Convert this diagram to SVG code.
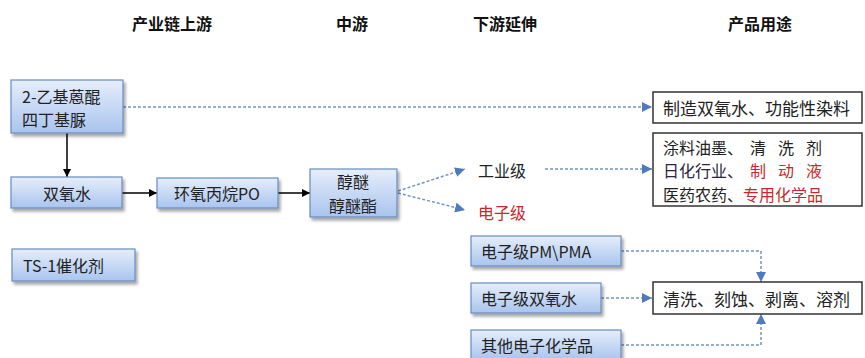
<svg xmlns="http://www.w3.org/2000/svg" width="865" height="358" viewBox="0 0 865 358">
<defs>
  <linearGradient id="blueFill" x1="0" y1="0" x2="0" y2="1">
    <stop offset="0" stop-color="#e6eefb"/>
    <stop offset="1" stop-color="#a9c4ee"/>
  </linearGradient>
  <filter id="shadow" x="-10%" y="-10%" width="130%" height="140%">
    <feDropShadow dx="2" dy="3" stdDeviation="1.5" flood-color="#000" flood-opacity="0.35"/>
  </filter>
  <marker id="arrBlack" viewBox="0 0 10 10" refX="10" refY="5" markerWidth="8" markerHeight="8" markerUnits="userSpaceOnUse" orient="auto">
    <path d="M0,0 L10,5 L0,10 z" fill="#000"/>
  </marker>
  <marker id="arrBlue" viewBox="0 0 10 10" refX="10" refY="5" markerWidth="10" markerHeight="10" markerUnits="userSpaceOnUse" orient="auto">
    <path d="M0,0 L10,5 L0,10 z" fill="#4f7bbd"/>
  </marker>
</defs>
<style>
  text { font-family: "Noto Sans CJK SC", "Noto Sans", sans-serif; fill: #222; }
  .hdr { font-size: 16px; font-weight: bold; text-anchor: middle; fill: #111; }
  .t { font-size: 16px; dominant-baseline: central; }
  .big { font-size: 17px; }
  .c { text-anchor: middle; }
  .red { fill: #c8282a; }
  .blue { fill: url(#blueFill); stroke: #6a8bc0; stroke-width: 1.2; filter: url(#shadow); }
  .out { fill: #fff; stroke: #333; stroke-width: 1.5; }
  .solid { stroke: #000; stroke-width: 1.5; fill: none; marker-end: url(#arrBlack); }
  .dash { stroke: #7593c4; stroke-width: 1.5; stroke-dasharray: 3 2; fill: none; marker-end: url(#arrBlue); }
</style>

<g id="headers">
  <text class="hdr" x="172" y="30">产业链上游</text>
  <text class="hdr" x="352" y="30">中游</text>
  <text class="hdr" x="505" y="30">下游延伸</text>
  <text class="hdr" x="760" y="30">产品用途</text>
</g>

<g id="connectors">
  <path class="dash" d="M123,107 H652"/>
  <path class="solid" d="M67,133 V177"/>
  <path class="solid" d="M122,193 H157"/>
  <path class="solid" d="M278,193 H310"/>
  <path class="dash" d="M398,191 L465,169"/>
  <path class="dash" d="M398,193 L465,210"/>
  <path class="dash" d="M545,169 H652"/>
  <path class="dash" d="M621,251 H761 V282"/>
  <path class="dash" d="M601,298 H652"/>
  <path class="dash" d="M621,345 H761 V314"/>
</g>

<g id="n_anthraquinone">
  <rect class="blue" x="11" y="80" width="112" height="53"/>
  <text class="t" x="22" y="96">2-乙基蒽醌</text>
  <text class="t" x="22" y="119">四丁基脲</text>
</g>
<g id="n_h2o2">
  <rect class="blue" x="11" y="177" width="111" height="31"/>
  <text class="t c" x="67" y="193">双氧水</text>
</g>
<g id="n_po">
  <rect class="blue" x="157" y="178" width="121" height="30"/>
  <text class="t c" x="217" y="193">环氧丙烷PO</text>
</g>
<g id="n_ether">
  <rect class="blue" x="310" y="169" width="87" height="48"/>
  <text class="t c" x="353" y="181">醇醚</text>
  <text class="t c" x="353" y="205">醇醚酯</text>
</g>
<g id="n_ts1">
  <rect class="blue" x="12" y="249" width="123" height="32"/>
  <text class="t" x="23" y="265">TS-1催化剂</text>
</g>
<g id="n_industrial">
  <text class="t" x="478" y="170">工业级</text>
</g>
<g id="n_electronic">
  <text class="t red" x="478" y="212">电子级</text>
</g>
<g id="n_pm">
  <rect class="blue" x="471" y="236" width="150" height="30"/>
  <text class="t" x="481" y="251">电子级PM\PMA</text>
</g>
<g id="n_eh2o2">
  <rect class="blue" x="471" y="283" width="130" height="30"/>
  <text class="t" x="481" y="298">电子级双氧水</text>
</g>
<g id="n_other">
  <rect class="blue" x="471" y="330" width="150" height="30"/>
  <text class="t" x="481" y="345">其他电子化学品</text>
</g>
<g id="n_use1">
  <rect class="out" x="653" y="92" width="209" height="31"/>
  <text class="t big" x="663" y="107">制造双氧水、功能性染料</text>
</g>
<g id="n_use2">
  <rect class="out" x="653" y="133" width="209" height="73"/>
  <text class="t" x="663" y="146.5">涂料油墨、<tspan x="750">清</tspan><tspan x="778">洗</tspan><tspan x="806">剂</tspan></text>
  <text class="t" x="663" y="170"><tspan fill="#2a2440">日化行业、</tspan><tspan class="red" x="750">制</tspan><tspan class="red" x="778">动</tspan><tspan class="red" x="806">液</tspan></text>
  <text class="t" x="663" y="193.5">医药农药、<tspan class="red">专用化学品</tspan></text>
</g>
<g id="n_use3">
  <rect class="out" x="653" y="282" width="209" height="32"/>
  <text class="t big" x="663" y="298">清洗、刻蚀、剥离、溶剂</text>
</g>
</svg>
